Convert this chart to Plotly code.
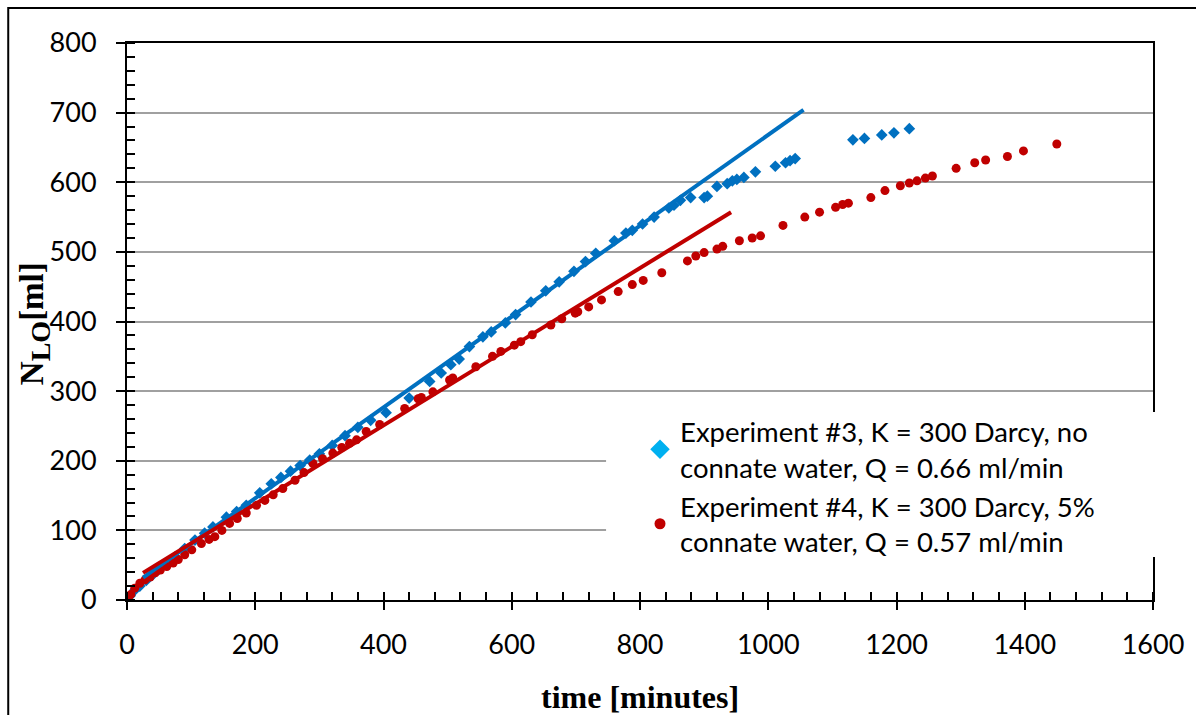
import plotly.graph_objects as go

# ---------------- data ----------------
exp3_time = [0, 5, 12, 20, 30, 40, 50, 62, 75, 90, 106, 121, 134, 155, 171, 186, 207, 225,
             240, 255, 270, 285, 300, 320, 340, 360, 380, 404, 440, 472, 490, 505, 518, 534,
             555, 568, 590, 606, 630, 653, 674, 697, 715, 731, 760, 778, 788, 804, 822, 845,
             853, 863, 879, 900, 905, 920, 936, 944, 951, 962, 980, 1011, 1027, 1034, 1042,
             1132, 1150, 1177, 1196, 1220]
exp3_nlo = [0, 6, 14, 20, 28, 36, 44, 52, 62, 74, 86, 96, 105, 119, 127, 136, 154, 167,
            176, 185, 193, 201, 210, 222, 236, 248, 258, 269, 290, 314, 326, 338, 346, 364,
            378, 385, 398, 410, 428, 444, 457, 472, 486, 498, 516, 527, 531, 540, 550, 563,
            567, 574, 578, 578, 580, 594, 598, 602, 604, 607, 615, 623, 628, 631, 634,
            661, 663, 668, 671, 677]

exp4_time = [0, 2, 6, 12, 20, 28, 36, 44, 52, 62, 72, 80, 90, 101, 116, 128, 137, 148, 160,
             172, 186, 202, 215, 228, 243, 262, 276, 290, 305, 321, 335, 347, 358, 373, 394,
             433, 454, 459, 477, 503, 508, 544, 570, 583, 604, 614, 632, 661, 678, 699, 703,
             720, 740, 766, 788, 805, 834, 874, 887, 900, 920, 929, 955, 975, 988, 1023,
             1057, 1080, 1105, 1116, 1125, 1160, 1182, 1206, 1220, 1232, 1245, 1256, 1293,
             1322, 1339, 1373, 1398, 1450]
exp4_nlo = [0, 2, 8, 17, 24, 29, 33, 39, 43, 48, 53, 58, 65, 72, 81, 87, 91, 100, 110,
            117, 125, 136, 143, 151, 160, 172, 183, 196, 203, 211, 219, 225, 230, 242, 252,
            275, 289, 291, 299, 316, 319, 335, 350, 357, 366, 371, 381, 395, 404, 412, 414,
            421, 431, 443, 453, 459, 470, 487, 494, 499, 504, 508, 516, 520, 523, 538,
            550, 557, 564, 568, 570, 578, 588, 595, 599, 602, 606, 609, 620,
            628, 632, 637, 645, 655]

# linear trend lines (start / end)
trend3_time = [25, 1055]
trend3_nlo = [32, 704]
trend4_time = [25, 942]
trend4_nlo = [39, 557]

legend_names = ["Experiment #3, K = 300 Darcy, no<br>connate water, Q = 0.66 ml/min",
                "Experiment #4, K = 300 Darcy, 5%<br>connate water, Q = 0.57 ml/min"]

x_ticks = [0, 200, 400, 600, 800, 1000, 1200, 1400, 1600]
y_ticks = [0, 100, 200, 300, 400, 500, 600, 700, 800]

BLUE = "#0070C0"
BLUE_LEG = "#00B0F0"
RED = "#C00000"
FONT = "Lato"

fig = go.Figure()

fig.add_trace(go.Scatter(x=exp3_time, y=exp3_nlo, mode="markers", showlegend=False,
                         marker=dict(symbol="diamond", size=9, color=BLUE)))
fig.add_trace(go.Scatter(x=exp4_time, y=exp4_nlo, mode="markers", showlegend=False,
                         marker=dict(symbol="circle", size=9, color=RED)))
fig.add_trace(go.Scatter(x=trend3_time, y=trend3_nlo, mode="lines", showlegend=False,
                         line=dict(color=BLUE, width=4)))
fig.add_trace(go.Scatter(x=trend4_time, y=trend4_nlo, mode="lines", showlegend=False,
                         line=dict(color=RED, width=4)))

# legend entries
fig.add_trace(go.Scatter(x=[None], y=[None], mode="markers", name=legend_names[0],
                         marker=dict(symbol="diamond", size=15, color=BLUE_LEG),
                         xaxis="x2", yaxis="y2"))
fig.add_trace(go.Scatter(x=[None], y=[None], mode="markers", name=legend_names[1],
                         marker=dict(symbol="circle", size=11, color=RED),
                         xaxis="x2", yaxis="y2"))

W, H = 1196, 715
L, R, T, B = 127, 41, 43, 115
pw, ph = W - L - R, H - T - B


def px_x(p):
    return (p - L) / pw


def px_y(p):
    return (H - B - p) / ph


tickfont = dict(family=FONT, size=27, color="black")

fig.update_layout(
    width=W, height=H, autosize=False,
    margin=dict(l=L, r=R, t=T, b=B, pad=0),
    paper_bgcolor="white", plot_bgcolor="white",
    showlegend=True,
    xaxis=dict(range=[0, 1600], tickvals=x_ticks, ticktext=[str(v) for v in x_ticks],
               showgrid=False, zeroline=False,
               showline=True, linecolor="black", linewidth=2, mirror=True,
               ticks="outside", ticklen=8, tickwidth=2, tickcolor="black",
               minor=dict(dtick=40, ticks="inside", ticklen=8, tickwidth=1.5, tickcolor="black"),
               tickfont=tickfont, ticklabelstandoff=12),
    yaxis=dict(range=[0, 800], tickvals=y_ticks, ticktext=[str(v) for v in y_ticks],
               showgrid=True, gridcolor="#A0A0A0", gridwidth=2, zeroline=False,
               showline=True, linecolor="black", linewidth=2, mirror=True,
               ticks="outside", ticklen=9, tickwidth=2, tickcolor="black",
               minor=dict(dtick=20, ticks="inside", ticklen=8, tickwidth=1.5, tickcolor="black"),
               tickfont=tickfont, ticklabelstandoff=14),
    xaxis2=dict(range=[0, 1600], overlaying="x", tickvals=x_ticks, showticklabels=False,
                showgrid=False, zeroline=False, showline=False,
                ticks="inside", ticklen=8, tickwidth=2, tickcolor="black"),
    yaxis2=dict(range=[0, 800], overlaying="y", tickvals=y_ticks, showticklabels=False,
                showgrid=False, zeroline=False, showline=False,
                ticks="inside", ticklen=8, tickwidth=2, tickcolor="black"),
    legend=dict(x=px_x(641), y=px_y(407), xanchor="left", yanchor="top",
                bgcolor="rgba(0,0,0,0)", borderwidth=0,
                font=dict(family=FONT, size=27.5, color="black"),
                itemsizing="trace", tracegroupgap=2),
    shapes=[
        # white legend background covering gridlines and plot border
        dict(type="rect", xref="paper", yref="paper", layer="above",
             x0=px_x(607), x1=px_x(1158), y0=px_y(557), y1=px_y(412),
             fillcolor="white", line=dict(width=0)),
        # outer chart border
        dict(type="rect", xref="paper", yref="paper", layer="above",
             x0=px_x(8), x1=px_x(1210), y0=px_y(730), y1=px_y(8),
             fillcolor="rgba(0,0,0,0)", line=dict(color="black", width=2)),
    ],
    annotations=[
        dict(text="<b>time [minutes]</b>", xref="paper", yref="paper",
             x=px_x(641), y=px_y(697), showarrow=False, xanchor="center", yanchor="middle",
             font=dict(family="Liberation Serif", size=32, color="black")),
        dict(text="<b>N<sub><span style=\"font-size:28px\">LO</span></sub>[ml]</b>",
             xref="paper", yref="paper",
             x=px_x(35), y=px_y(324), showarrow=False, xanchor="center", yanchor="middle",
             textangle=-90, font=dict(family="Liberation Serif", size=33, color="black")),
    ],
)

fig.write_html("out.html")
